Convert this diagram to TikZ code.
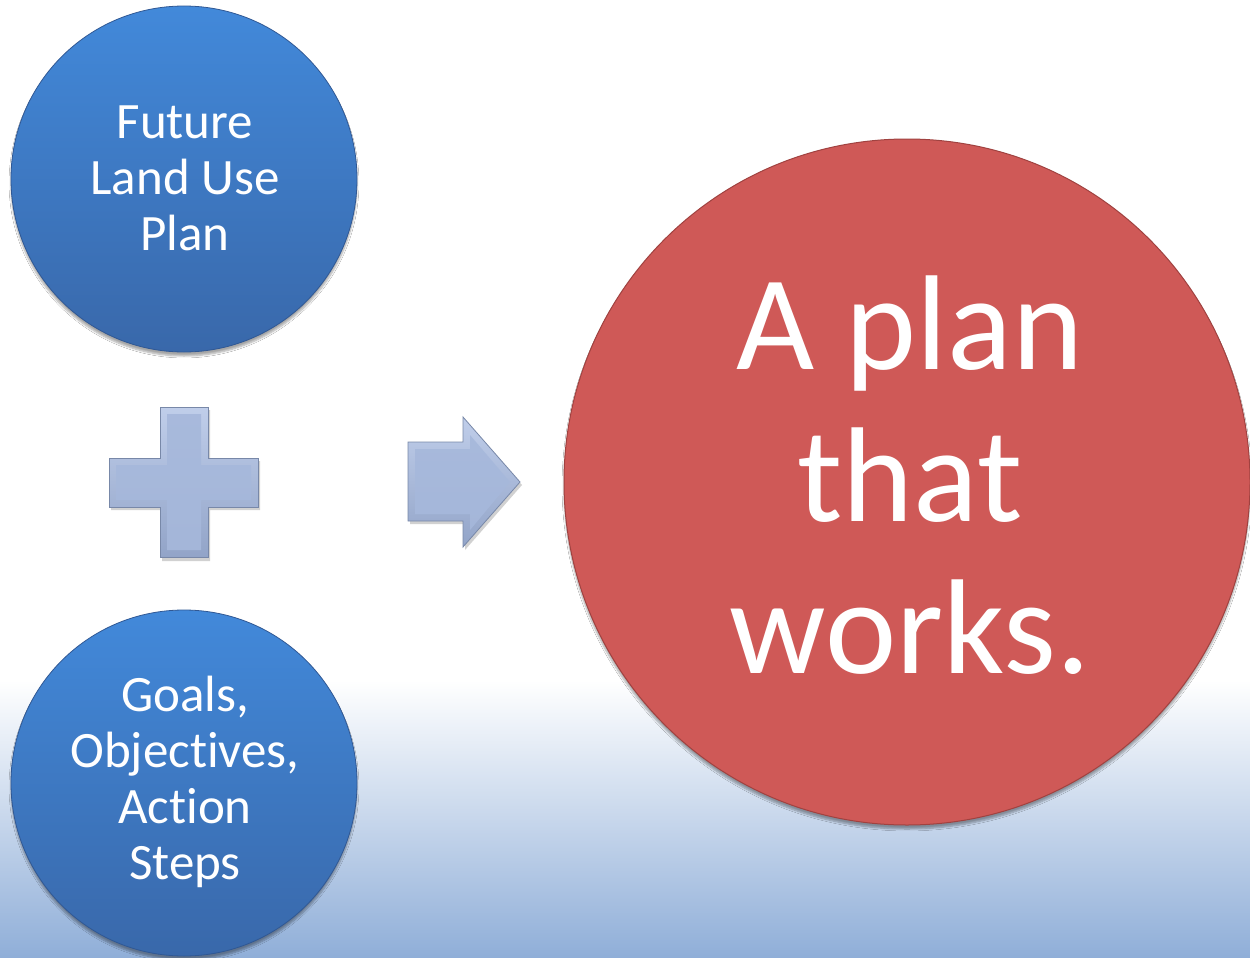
\documentclass[tikz,border=0pt]{standalone}
\usepackage{fontspec}
\setmainfont{Carlito}[Ligatures=NoCommon]
\usetikzlibrary{shadows.blur}
\definecolor{bgblue}{RGB}{143,174,216}
\definecolor{bluetop}{RGB}{66,137,218}
\definecolor{bluebot}{RGB}{57,104,170}
\definecolor{blueedge}{RGB}{48,88,148}
\definecolor{redfill}{RGB}{207,89,87}
\definecolor{rededge}{RGB}{160,66,64}
\definecolor{symtop}{RGB}{192,206,234}
\definecolor{symbot}{RGB}{146,164,200}
\definecolor{symin}{RGB}{166,184,219}
\definecolor{symedge}{RGB}{120,136,168}
\tikzset{
  bluecirc/.style={circle, minimum size=346pt, inner sep=0pt, top color=bluetop, bottom color=bluebot, draw=blueedge, line width=0.8pt,
    blur shadow={shadow xshift=0pt, shadow yshift=-4pt, shadow blur steps=6, shadow opacity=35}},
  redcirc/.style={circle, minimum size=686pt, inner sep=0pt, fill=redfill, draw=rededge, line width=1pt,
    blur shadow={shadow xshift=0pt, shadow yshift=-4pt, shadow blur steps=6, shadow opacity=35}},
  bluetext/.style={text=white, align=center, font=\fontsize{51}{56}\selectfont},
  redtext/.style={text=white, align=center, font=\fontsize{135}{152}\selectfont},
  symouter/.style={top color=symtop, bottom color=symbot, draw=symedge, line width=0.8pt, line join=miter},
  syminner/.style={fill=symin, opacity=0.9},
  symshadow/.style={fill=black, opacity=0.18}
}
\begin{document}
\begin{tikzpicture}[x=1pt,y=-1pt]
\useasboundingbox (0,0) rectangle (1250,958);
\fill[white] (0,0) rectangle (1250,958);
\shade[top color=white, bottom color=bgblue] (0,680) rectangle (1250,958.5);

% blue circles
\node[bluecirc] (c1) at (184,179) {};
\node[bluetext] (t1) at (185,178) {Future\\Land Use\\Plan};
\node[bluecirc] (c2) at (184,783) {};
\node[bluetext] (t2) at (185,782) {Goals,\\Objectives,\\Action\\Steps};

% red circle
\node[redcirc] (c3) at (907,482) {};
\node[redtext] (t3) at (910,475) {A plan\\that\\works.};

% plus sign
\fill[symshadow] (162,410) -- (210,410) -- (210,461) -- (260,461) -- (260,510) -- (210,510) -- (210,561) -- (162,561) -- (162,510) -- (111,510) -- (111,461) -- (162,461) -- cycle;
\path[symouter] (160,407) -- (208,407) -- (208,458) -- (258,458) -- (258,507) -- (208,507) -- (208,557) -- (160,557) -- (160,507) -- (109,507) -- (109,458) -- (160,458) -- cycle;
\fill[syminner] (167,414) -- (201,414) -- (201,465) -- (251,465) -- (251,500) -- (201,500) -- (201,550) -- (167,550) -- (167,500) -- (116,500) -- (116,465) -- (167,465) -- cycle;

% arrow
\fill[symshadow] (410,445) -- (465,445) -- (465,420) -- (522,485) -- (465,550) -- (465,524) -- (410,524) -- cycle;
\path[symouter] (408,442) -- (463,442) -- (463,417) -- (520,482) -- (463,547) -- (463,521) -- (408,521) -- cycle;
\fill[syminner] (415,449) -- (470,449) -- (470,435) -- (510,482) -- (470,530) -- (470,514) -- (415,514) -- cycle;
\end{tikzpicture}
\end{document}
